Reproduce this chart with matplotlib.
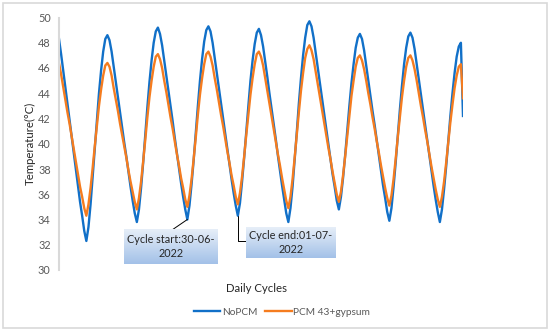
import numpy as np
import matplotlib
matplotlib.use('Agg')
import matplotlib.pyplot as plt
from matplotlib.colors import LinearSegmentedColormap
from matplotlib.patches import Rectangle
from matplotlib.lines import Line2D

plt.rcParams['font.family'] = ['Lato', 'DejaVu Sans']

# hourly temperatures, one row per day (last value = final reading)
nopcm = [
	48.3, 47.1, 45.8, 44.5, 43.2, 41.9, 40.6, 39.3, 38.0, 36.7, 35.4, 34.3, 33.1, 32.3, 33.4, 35.2, 37.4, 39.6, 41.9, 44.0, 45.8, 47.3, 48.3, 48.6,
	48.2, 47.3, 46.1, 44.9, 43.7, 42.5, 41.3, 40.1, 39.0, 37.8, 36.6, 35.5, 34.5, 33.8, 34.8, 36.5, 38.5, 40.7, 42.9, 44.9, 46.6, 48.0, 48.9, 49.2,
	48.7, 47.8, 46.6, 45.4, 44.2, 43.0, 41.8, 40.5, 39.3, 38.1, 36.9, 35.8, 34.8, 34.0, 35.1, 36.8, 38.7, 40.9, 43.0, 45.0, 46.7, 48.1, 49.0, 49.3,
	48.9, 48.0, 46.8, 45.6, 44.4, 43.2, 42.0, 40.8, 39.6, 38.4, 37.2, 36.1, 35.1, 34.3, 35.3, 37.0, 38.9, 41.0, 43.0, 45.0, 46.6, 47.9, 48.8, 49.1,
	48.6, 47.7, 46.5, 45.3, 44.0, 42.8, 41.6, 40.4, 39.1, 37.9, 36.7, 35.6, 34.5, 33.8, 34.9, 36.6, 38.7, 40.9, 43.2, 45.2, 47.0, 48.4, 49.4, 49.7,
	49.3, 48.4, 47.2, 46.0, 44.8, 43.6, 42.4, 41.2, 40.0, 38.8, 37.6, 36.6, 35.5, 34.8, 35.8, 37.3, 39.1, 41.1, 43.0, 44.8, 46.3, 47.6, 48.4, 48.7,
	48.3, 47.4, 46.2, 45.0, 43.8, 42.6, 41.5, 40.3, 39.1, 37.9, 36.7, 35.7, 34.6, 33.9, 34.9, 36.6, 38.5, 40.6, 42.7, 44.6, 46.3, 47.6, 48.5, 48.8,
	48.4, 47.5, 46.3, 45.1, 43.9, 42.7, 41.5, 40.3, 39.1, 37.9, 36.7, 35.6, 34.6, 33.8, 34.8, 36.4, 38.2, 40.2, 42.2, 44.0, 45.6, 46.9, 47.7, 48.0,
	42.2,
]

pcm_gypsum = [
	46.4, 45.5, 44.5, 43.5, 42.5, 41.6, 40.6, 39.6, 38.6, 37.6, 36.6, 35.8, 34.9, 34.3, 35.2, 36.5, 38.1, 39.8, 41.4, 43.0, 44.3, 45.4, 46.2, 46.4,
	46.1, 45.4, 44.4, 43.5, 42.6, 41.6, 40.7, 39.8, 38.9, 37.9, 37.0, 36.2, 35.4, 34.8, 35.7, 37.0, 38.6, 40.3, 42.1, 43.7, 45.0, 46.1, 46.9, 47.1,
	46.7, 46.0, 45.0, 44.1, 43.1, 42.1, 41.2, 40.2, 39.2, 38.3, 37.3, 36.5, 35.6, 35.0, 35.9, 37.2, 38.8, 40.5, 42.3, 43.9, 45.2, 46.3, 47.1, 47.3,
	46.9, 46.2, 45.2, 44.3, 43.3, 42.3, 41.4, 40.4, 39.4, 38.5, 37.5, 36.7, 35.8, 35.2, 36.1, 37.4, 39.0, 40.7, 42.3, 43.9, 45.2, 46.3, 47.1, 47.3,
	46.9, 46.2, 45.2, 44.2, 43.2, 42.2, 41.2, 40.2, 39.2, 38.3, 37.3, 36.4, 35.5, 34.9, 35.8, 37.2, 38.9, 40.7, 42.5, 44.2, 45.6, 46.8, 47.5, 47.8,
	47.4, 46.7, 45.7, 44.7, 43.7, 42.7, 41.7, 40.7, 39.7, 38.8, 37.8, 36.9, 36.0, 35.4, 36.2, 37.5, 39.0, 40.6, 42.2, 43.8, 45.0, 46.1, 46.8, 47.0,
	46.6, 45.9, 45.0, 44.0, 43.1, 42.1, 41.2, 40.2, 39.3, 38.3, 37.4, 36.5, 35.7, 35.1, 35.9, 37.2, 38.8, 40.5, 42.1, 43.7, 45.0, 46.1, 46.8, 47.0,
	46.6, 45.9, 45.0, 44.0, 43.0, 42.1, 41.1, 40.2, 39.2, 38.2, 37.3, 36.4, 35.6, 35.0, 35.8, 37.0, 38.5, 40.1, 41.7, 43.1, 44.4, 45.4, 46.1, 46.3,
	43.6,
]

hours = np.arange(len(nopcm))
start_idx = 61   # Cycle start:30-06-2022
end_idx = 85     # Cycle end:01-07-2022
yticks = list(range(30, 51, 2))

W, H = 550, 332
blue = '#1170c8'
orange = '#f57c1f'

fig = plt.figure(figsize=(W / 100, H / 100), dpi=100)
fig.patches.append(Rectangle((3 / W, 4 / H), 544 / W, 325 / H, transform=fig.transFigure,
	fill=False, edgecolor='#d9d9d9', lw=1.2))

ax = fig.add_axes([59 / W, 1 - 270 / H, (463 - 59) / W, (270 - 17.5) / H])
ax.plot(hours, nopcm, color=blue, lw=1.7, solid_joinstyle='round')
ax.plot(hours, pcm_gypsum, color=orange, lw=1.7, solid_joinstyle='round')
ax.set_xlim(0, hours[-1])
ax.set_ylim(30, 50)
ax.set_yticks(yticks)
ax.set_xticks([])
ax.tick_params(axis='y', length=0, labelsize=7.8, labelcolor='#595959', pad=6)
for s in ['top', 'right', 'bottom']:
	ax.spines[s].set_visible(False)
ax.spines['left'].set_color('#d9d9d9')
ax.spines['left'].set_linewidth(1.5)

fig.text(30 / W, 1 - 143 / H, 'Temperature(°C)', rotation=90, ha='center', va='center',
	fontsize=8.2, color='#262626')
fig.text(257 / W, 1 - 288 / H, 'Daily Cycles', ha='center', va='center', fontsize=8.2, color='#262626')

# leader lines
ax.annotate('', xy=(hours[start_idx], nopcm[start_idx]), xytext=(172 / W, 1 - 230 / H),
	textcoords='figure fraction', annotation_clip=False,
	arrowprops=dict(arrowstyle='-', color='black', lw=0.7, shrinkA=0, shrinkB=0))
ax.annotate('', xy=(hours[end_idx], nopcm[end_idx]), xytext=(247 / W, 1 - 241 / H),
	textcoords='figure fraction', annotation_clip=False,
	arrowprops=dict(arrowstyle='-', color='black', lw=0.7, shrinkA=0, shrinkB=0,
		connectionstyle='angle,angleA=0,angleB=90,rad=0'))

cmap = LinearSegmentedColormap.from_list('box', ['#e6eef8', '#a3c1e8'])
grad = np.linspace(0, 1, 64).reshape(-1, 1)


def label_box(x0, y0, x1, y1, text):
	bax = fig.add_axes([x0 / W, 1 - y1 / H, (x1 - x0) / W, (y1 - y0) / H])
	bax.imshow(grad, aspect='auto', cmap=cmap, extent=[0, 1, 0, 1], origin='upper')
	bax.axis('off')
	bax.text(0.5, 0.5, text, ha='center', va='center', fontsize=7.8, color='#262626',
		linespacing=1.3, transform=bax.transAxes)


label_box(124, 229, 218, 264, 'Cycle start:30-06-\n2022')
label_box(246, 227, 336, 258, 'Cycle end:01-07-\n2022')

handles = [Line2D([], [], color=blue, lw=1.7), Line2D([], [], color=orange, lw=1.7)]
fig.legend(handles, ['NoPCM', 'PCM 43+gypsum'], loc='center', bbox_to_anchor=(282 / W, 1 - 312 / H),
	ncol=2, frameon=False, fontsize=7.3, handlelength=2.6, handletextpad=0.15, columnspacing=0.8,
	labelcolor='#595959')

fig.savefig('out.png', dpi=100)
